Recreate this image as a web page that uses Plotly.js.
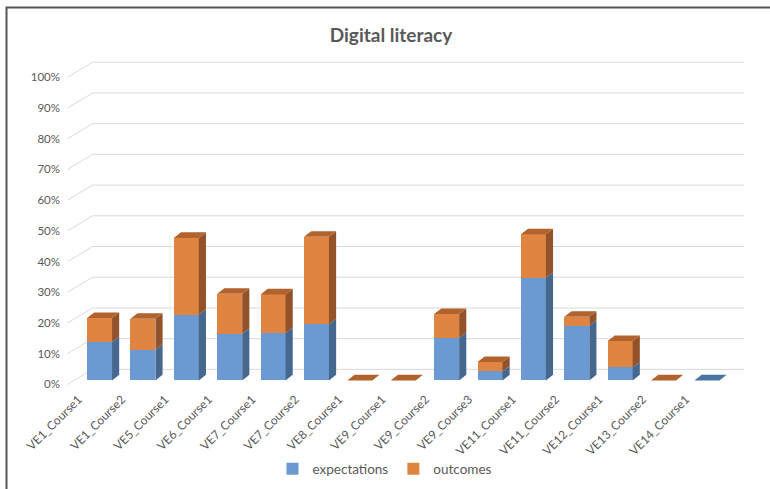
<!DOCTYPE html>
<html>
<head>
<meta charset="utf-8">
<script src="https://cdn.plot.ly/plotly-3.0.1.min.js"></script>
<style>
  html, body { margin: 0; padding: 0; background: #ffffff; }
  #chart { width: 770px; height: 489px; }
</style>
</head>
<body>
<div id="chart"></div>
<script>
// ---- data (percent) ----
const categories = ['VE1_Course1', 'VE1_Course2', 'VE5_Course1', 'VE6_Course1', 'VE7_Course1',
  'VE7_Course2', 'VE8_Course1', 'VE9_Course1', 'VE9_Course2', 'VE9_Course3',
  'VE11_Course1', 'VE11_Course2', 'VE12_Course1', 'VE13_Course2', 'VE14_Course1'];
const expectations = [12.5, 10.0, 21.4, 15.2, 15.4, 18.3, 0, 0, 13.8, 2.9, 33.4, 17.8, 4.2, 0, 0];
const outcomes = [7.8, 10.1, 25.0, 13.0, 12.6, 28.5, 0, 0, 7.8, 3.1, 14.2, 2.9, 8.6, 0, null];
const seriesNames = ['expectations', 'outcomes'];
const yTicks = [0, 10, 20, 30, 40, 50, 60, 70, 80, 90, 100];
const yTickText = yTicks.map(v => v + '%');

// ---- styling ----
const FONT = 'Lato, "Open Sans", sans-serif';
const TXT = '#595959';
const blueFront = '#6A9AD1', blueSide = '#46688F', blueTop = '#4B73A3';
const orangeFront = '#E08442', orangeSide = '#94522A', orangeTop = '#B1622D';
const barW = 0.576;          // bar width in category units
const depthX = 0.165;        // bar depth offset (category units)
const depthY = 1.8;          // bar depth offset (percent units)
const wallX0 = -0.161, wallX1 = 14.86, wallDy = 3.59;   // back wall
const frontX = -0.737, frontDy = -1.3;                  // front edge of floor/wall

const xIdx = categories.map((_, i) => i);
const totals = expectations.map((e, i) => e + (outcomes[i] || 0));

// polygons for side and top faces
const bsX = [], bsY = [], osX = [], osY = [], btX = [], btY = [], otX = [], otY = [];
xIdx.forEach((xc, i) => {
  const xl = xc - barW / 2, xr = xc + barW / 2;
  const e = expectations[i], t = totals[i];
  if (e > 0) {
    bsX.push(xr, xr + depthX, xr + depthX, xr, xr, null);
    bsY.push(0, depthY, e + depthY, e, 0, null);
  }
  if (outcomes[i] > 0) {
    osX.push(xr, xr + depthX, xr + depthX, xr, xr, null);
    osY.push(e, e + depthY, t + depthY, t, e, null);
  }
  const tx = [xl, xl + depthX, xr + depthX, xr, xl, null];
  const ty = [t, t + depthY, t + depthY, t, t, null];
  if (outcomes[i] === null || outcomes[i] === undefined) { btX.push(...tx); btY.push(...ty); }
  else { otX.push(...tx); otY.push(...ty); }
});

function face(x, y, color) {
  return { type: 'scatter', mode: 'lines', x: x, y: y, fill: 'toself', fillcolor: color,
    line: { width: 0, color: color }, hoverinfo: 'skip', showlegend: false };
}

const data = [
  { type: 'bar', name: seriesNames[0], x: xIdx, y: expectations, width: barW,
    marker: { color: blueFront, line: { width: 0 } } },
  { type: 'bar', name: seriesNames[1], x: xIdx, y: outcomes, width: barW,
    marker: { color: orangeFront, line: { width: 0 } } },
  face(bsX, bsY, blueSide),
  face(osX, osY, orangeSide),
  face(btX, btY, blueTop),
  face(otX, otY, orangeTop)
];

// back-wall grid lines
const shapes = [];
yTicks.forEach(v => {
  shapes.push({ type: 'line', xref: 'x', yref: 'y', x0: wallX0, x1: wallX1, y0: v + wallDy, y1: v + wallDy,
    line: { color: '#D9D9D9', width: 1 }, layer: 'below' });
  shapes.push({ type: 'line', xref: 'x', yref: 'y', x0: frontX, x1: wallX0, y0: v + frontDy, y1: v + wallDy,
    line: { color: '#D9D9D9', width: 1 }, layer: 'below' });
});

const M = { l: 67, r: 24, t: 61, b: 104 };
const W = 770, H = 489;
const pw = W - M.l - M.r, ph = H - M.t - M.b;
const px2paperX = p => (p - M.l) / pw;
const px2paperY = p => (H - M.b - p) / ph;
// chart-area border (top and left edges visible)
shapes.push({ type: 'path', xref: 'paper', yref: 'paper',
  path: 'M' + px2paperX(6.5) + ',' + px2paperY(492) + ' L' + px2paperX(6.5) + ',' + px2paperY(7.5) +
        ' L' + px2paperX(772) + ',' + px2paperY(7.5),
  line: { color: '#555555', width: 2 } });

const layout = {
  width: W, height: H,
  margin: Object.assign({ autoexpand: false }, M),
  paper_bgcolor: '#ffffff', plot_bgcolor: 'rgba(0,0,0,0)',
  barmode: 'stack',
  font: { family: FONT, color: TXT },
  title: { text: 'Digital literacy', font: { family: FONT, size: 19, color: TXT, weight: 700 },
    x: px2paperX(391), xref: 'paper', xanchor: 'center', y: 1 - 35 / H, yref: 'container', yanchor: 'middle' },
  xaxis: { range: [-0.75, 14.9], tickvals: xIdx, ticktext: categories, tickangle: -45,
    showgrid: false, zeroline: false, showline: false, ticks: '', automargin: false,
    tickfont: { family: FONT, size: 12, color: TXT }, ticklabelshift: -21, ticklabelstandoff: 4 },
  yaxis: { range: [-1.5, 104], tickvals: yTicks, ticktext: yTickText,
    showgrid: false, zeroline: false, showline: false, ticks: '', automargin: false,
    tickfont: { family: FONT, size: 11.5, color: TXT }, ticklabelshift: 4, ticklabelstandoff: 6 },
  legend: { orientation: 'h', xref: 'container', x: 0.5, xanchor: 'center',
    yref: 'container', y: 1 - 469 / H, yanchor: 'middle', traceorder: 'normal',
    font: { family: FONT, size: 13.5, color: TXT }, itemwidth: 30 },
  shapes: shapes,
  showlegend: true
};

Plotly.newPlot('chart', data, layout, { displayModeBar: false, staticPlot: true });
</script>
</body>
</html>
